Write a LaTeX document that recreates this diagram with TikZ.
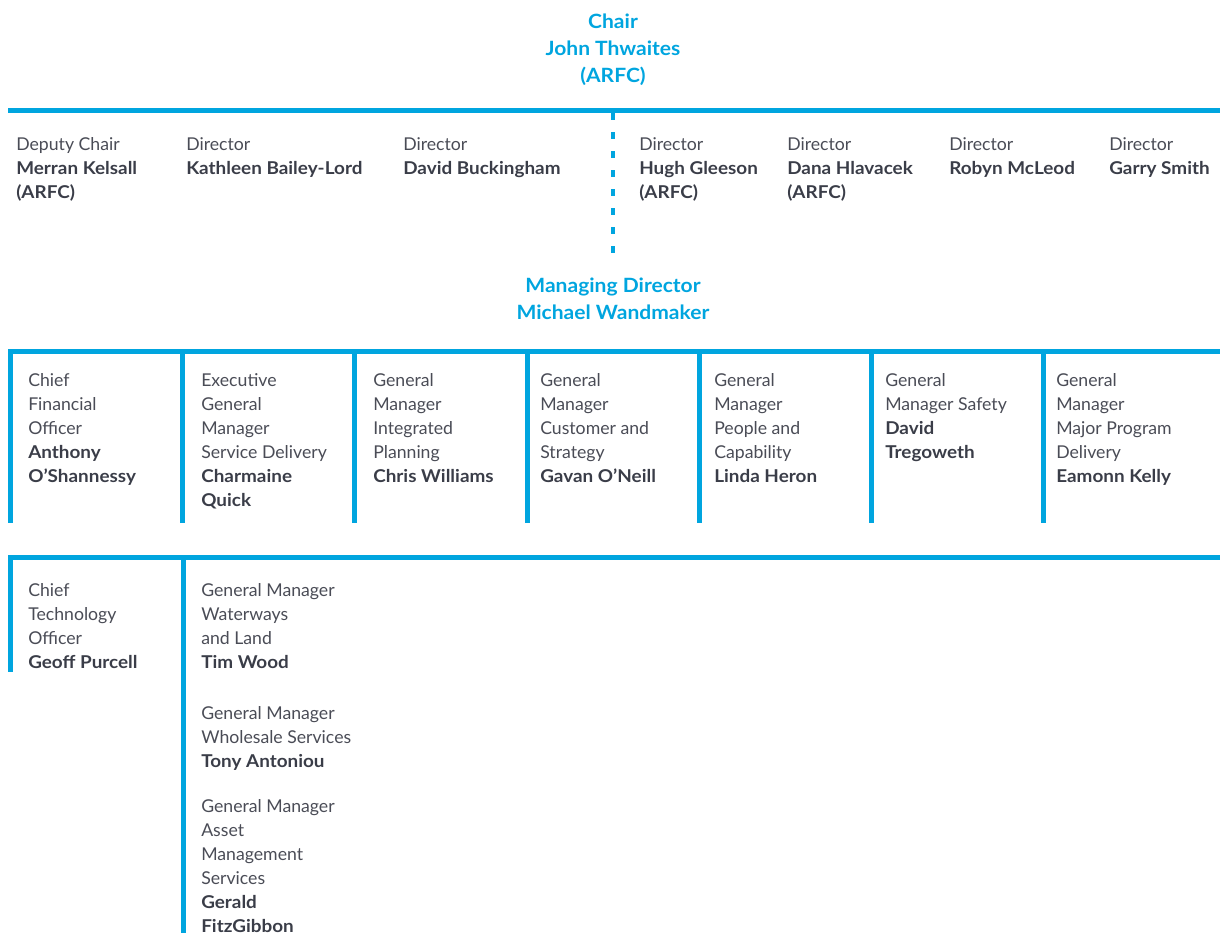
\documentclass[tikz,border=0pt]{standalone}
\usepackage{fontspec}
\setmainfont{Lato}[BoldFeatures={FakeStretch=1.07}]
\definecolor{brand}{HTML}{00A5DF}
\definecolor{txt}{HTML}{4A4C56}
\definecolor{txtb}{HTML}{3A3D48}
\newcommand\nm[1]{\textbf{\color{txtb}#1}}
\begin{document}
\begin{tikzpicture}[x=0.75pt,y=-0.75pt,
  bar/.style={draw=brand,line width=3.75pt},
  dashbar/.style={draw=brand,line width=3pt,dash pattern=on 5.25pt off 9pt},
  head/.style={anchor=north,inner sep=0pt,align=center,text=brand,
    font=\fontsize{14.75}{20.25}\selectfont\bfseries},
  person/.style={anchor=north west,inner sep=0pt,align=left,text=txt,
    font=\fontsize{13.25}{18}\selectfont}]
\useasboundingbox (0,0) rectangle (1220,933);

% Chair and board bar
\node[head] (chair) at (613,9) {\strut Chair\\John Thwaites\\(ARFC)};
\draw[bar] (8,110.5) -- (1220,110.5);
\coordinate (dtop) at (613,113);
\coordinate (dbot) at (613,258);
\draw[dashbar] (dtop) -- (dbot);

% Board members
\node[person] (d1) at (16,133) {\strut Deputy Chair\\\nm{Merran Kelsall}\\\nm{(ARFC)}};
\node[person] (d2) at (186,133) {\strut Director\\\nm{Kathleen Bailey-Lord}};
\node[person] (d3) at (403,133) {\strut Director\\\nm{David Buckingham}};
\node[person] (d4) at (639,133) {\strut Director\\\nm{Hugh Gleeson}\\\nm{(ARFC)}};
\node[person] (d5) at (787,133) {\strut Director\\\nm{Dana Hlavacek}\\\nm{(ARFC)}};
\node[person] (d6) at (949,133) {\strut Director\\\nm{Robyn McLeod}};
\node[person] (d7) at (1109,133) {\strut Director\\\nm{Garry Smith}};

% Managing Director
\node[head] (md) at (613,273) {\strut Managing Director\\Michael Wandmaker};

% Executive row
\draw[bar] (8,351.5) -- (1220,351.5);
\foreach \x in {10.5,182.5,354.5,527,699.5,871.5,1043.5}
  \draw[bar] (\x,349.5) -- (\x,523);
\node[person] (e1) at (28,369) {\strut Chief\\Financial\\Officer\\\nm{Anthony}\\\nm{O’Shannessy}};
\node[person] (e2) at (201,369) {\strut Executive\\General\\Manager\\Service Delivery\\\nm{Charmaine}\\\nm{Quick}};
\node[person] (e3) at (373,369) {\strut General\\Manager\\Integrated\\Planning\\\nm{Chris Williams}};
\node[person] (e4) at (540,369) {\strut General\\Manager\\Customer and\\Strategy\\\nm{Gavan O’Neill}};
\node[person] (e5) at (714,369) {\strut General\\Manager\\People and\\Capability\\\nm{Linda Heron}};
\node[person] (e6) at (885,369) {\strut General\\Manager Safety\\\nm{David}\\\nm{Tregoweth}};
\node[person] (e7) at (1056,369) {\strut General\\Manager\\Major Program\\Delivery\\\nm{Eamonn Kelly}};

% Second executive row
\draw[bar] (8,557.5) -- (1220,557.5);
\draw[bar] (10.5,555.5) -- (10.5,672);
\draw[bar] (183,555.5) -- (183,933);
\node[person] (f1) at (28,579) {\strut Chief\\Technology\\Officer\\\nm{Geoff Purcell}};
\node[person] (f2) at (201,579) {\strut General Manager\\Waterways\\and Land\\\nm{Tim Wood}};
\node[person] (f3) at (201,702) {\strut General Manager\\Wholesale Services\\\nm{Tony Antoniou}};
\node[person] (f4) at (201,795) {\strut General Manager\\Asset\\Management\\Services\\\nm{Gerald}\\\nm{FitzGibbon}};
\end{tikzpicture}
\end{document}
